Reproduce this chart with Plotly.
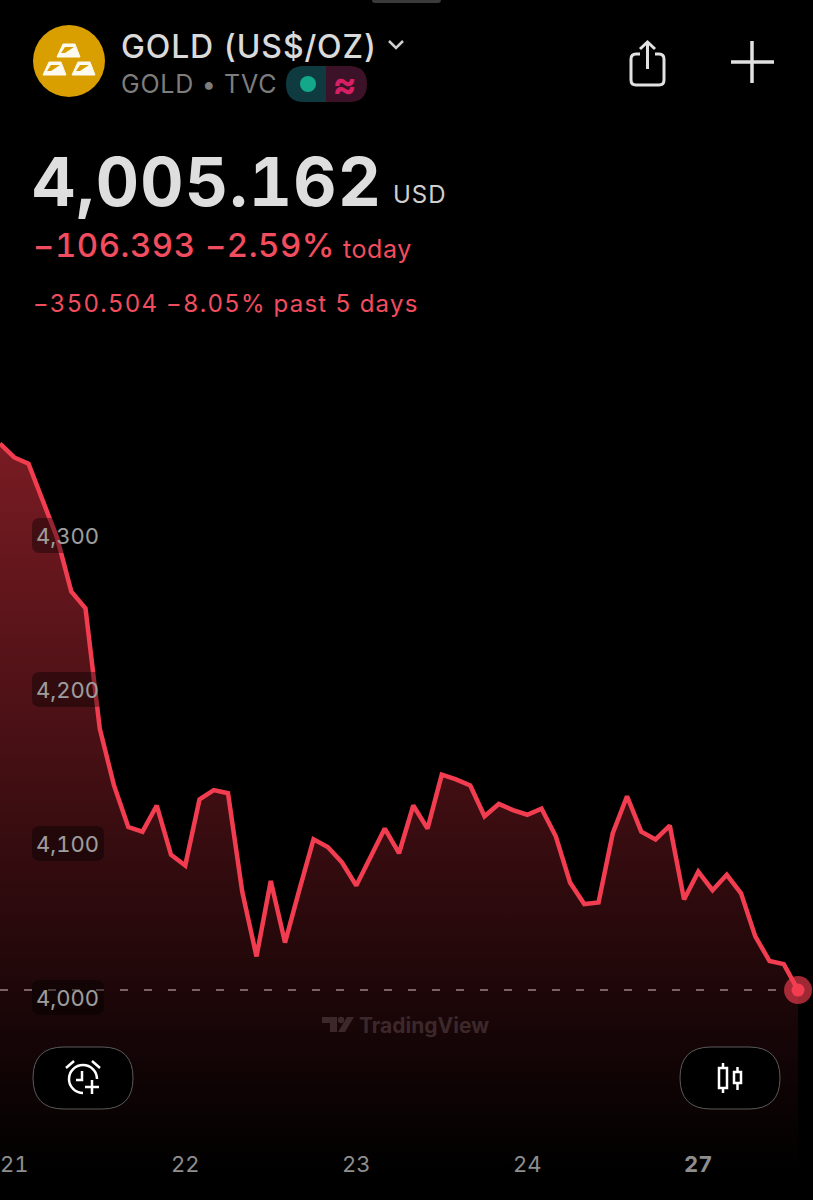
import plotly.graph_objects as go

WIDTH = 813
HEIGHT = 1200
PLOT_BOTTOM = 1172

# DATA
prices = [
    4360, 4351, 4347, 4323, 4299, 4264, 4253, 4175, 4138, 4111, 4108, 4125,
    4093, 4086, 4129, 4135, 4133, 4069, 4027, 4076, 4036, 4070, 4103, 4098,
    4088, 4073, 4092, 4110, 4094, 4125, 4110, 4145, 4142, 4138, 4118, 4126,
    4122, 4119, 4123, 4105, 4075, 4061, 4062, 4107, 4131, 4108, 4103, 4112,
    4064, 4082, 4070, 4080, 4068, 4040, 4024, 4022, 4005.162,
]
bars = list(range(len(prices)))
day_positions = [1, 13, 25, 37, 49]
day_labels = ["21", "22", "23", "24", "<b>27</b>"]
price_ticks = [4000, 4100, 4200, 4300]
price_labels = ["4,000", "4,100", "4,200", "4,300"]
last_price = prices[-1]

RED = "#f23d50"
FONT = "Inter"
TNUM = "font-feature-settings:'tnum'"


def px(x):
    return x / WIDTH


def py(y):
    # paper coords stop at the bottom of the plot area
    return (PLOT_BOTTOM - y) / PLOT_BOTTOM


def path(*parts):
    # parts are commands with pixel coords, e.g. ("M", 10, 20)
    out = []
    for cmd, *nums in parts:
        pairs = [f"{px(nums[i])},{py(nums[i + 1])}" for i in range(0, len(nums), 2)]
        out.append(cmd + " ".join(pairs))
    return " ".join(out)


def rounded(x0, y0, x1, y1, r):
    return path(
        ("M", x0 + r, y0), ("L", x1 - r, y0), ("Q", x1, y0, x1, y0 + r),
        ("L", x1, y1 - r), ("Q", x1, y1, x1 - r, y1), ("L", x0 + r, y1),
        ("Q", x0, y1, x0, y1 - r), ("L", x0, y0 + r), ("Q", x0, y0, x0 + r, y0),
    ) + " Z"


def icon(d, color="#e2e2e2", width=3):
    return dict(type="path", xref="paper", yref="paper", path=d, layer="above",
                line=dict(color=color, width=width), fillcolor="rgba(0,0,0,0)")


def solid(d, color, line_color=None, line_width=0):
    return dict(type="path", xref="paper", yref="paper", path=d, layer="above",
                fillcolor=color, line=dict(color=line_color or color, width=line_width))


def circle(cx, cy, r, color):
    return dict(type="circle", xref="paper", yref="paper", layer="above",
                x0=px(cx - r), x1=px(cx + r), y0=py(cy + r), y1=py(cy - r),
                fillcolor=color, line=dict(width=0))


def label(x, y, text, size, color, spacing=0, weight=400, anchor="left"):
    text = f'<span style="letter-spacing:{spacing}px;font-weight:{weight};{TNUM}">{text}</span>'
    return dict(xref="paper", yref="paper", x=px(x), y=py(y), text=text, showarrow=False,
                xanchor=anchor, yanchor="middle", borderpad=0,
                font=dict(family=FONT, size=size, color=color))


def gold_bar(x, y):
    return [
        solid(path(("M", x, y + 14), ("L", x + 6, y + 1), ("L", x + 18, y + 1), ("L", x + 23, y + 14)) + " Z",
              "#fdfaf0", "#fdfaf0", 1),
        solid(path(("M", x + 4, y + 10), ("L", x + 8, y + 4), ("L", x + 17, y + 4), ("L", x + 8, y + 10)) + " Z",
              "#d99e00"),
    ]


shapes = []

# status bar stub on top
shapes.append(solid(rounded(372, -6, 441, 3, 3), "#3a3a3a"))

# header icons
shapes.append(circle(69, 61, 36, "#d99e00"))
shapes += gold_bar(57, 43) + gold_bar(43, 61) + gold_bar(72, 61)
shapes.append(icon(path(("M", 389, 41), ("L", 396, 48), ("L", 403, 41)), "#d0d0d0", 2.5))

# pill with the market status
shapes.append(solid(path(("M", 326, 66), ("L", 304, 66), ("Q", 286, 66, 286, 84), ("Q", 286, 102, 304, 102), ("L", 326, 102)) + " Z", "#0e3a40"))
shapes.append(solid(path(("M", 326, 66), ("L", 349, 66), ("Q", 367, 66, 367, 84), ("Q", 367, 102, 349, 102), ("L", 326, 102)) + " Z", "#3c1228"))
shapes.append(circle(308, 84, 8, "#14a88a"))

# share and plus
shapes.append(icon(path(("M", 640, 54), ("L", 636, 54), ("Q", 631, 54, 631, 59), ("L", 631, 80), ("Q", 631, 85, 636, 85),
                        ("L", 659, 85), ("Q", 664, 85, 664, 80), ("L", 664, 59), ("Q", 664, 54, 659, 54), ("L", 655, 54))))
shapes.append(icon(path(("M", 647.5, 69), ("L", 647.5, 43))))
shapes.append(icon(path(("M", 640, 49), ("L", 647.5, 42), ("L", 655, 49))))
shapes.append(icon(path(("M", 731, 62), ("L", 774, 62)), "#e2e2e2", 3.5))
shapes.append(icon(path(("M", 752, 41), ("L", 752, 83)), "#e2e2e2", 3.5))

# current price line, under the red line and the dot
shapes.append(dict(type="line", xref="x", yref="y", x0=bars[0], x1=bars[-1], y0=last_price, y1=last_price,
                   layer="between", line=dict(color="#8c8c8c", width=1.5, dash="8px,16px")))

# dark chips under the price labels
for top in [518, 672, 826, 980]:
    shapes.append(solid(rounded(32, top, 104, top + 35, 8), "rgba(0,0,0,0.38)"))

# TradingView logo
WM = "#3c282b"
shapes.append(solid(path(("M", 322, 1017), ("L", 337, 1017), ("L", 337, 1032), ("L", 330, 1032), ("L", 330, 1023), ("L", 322, 1023)) + " Z", WM))
shapes.append(circle(341, 1020, 3.2, WM))
shapes.append(solid(path(("M", 347, 1017), ("L", 354, 1017), ("L", 345, 1032), ("L", 338, 1032)) + " Z", WM))

# alert button
shapes.append(solid(rounded(33, 1047, 133, 1109, 31), "#000000", "#5a5a5a", 1))
WH = "#ffffff"
shapes.append(icon(path(("M", 97, 1079), ("C", 97, 1071.3, 90.7, 1065, 83, 1065), ("C", 75.3, 1065, 69, 1071.3, 69, 1079), ("C", 69, 1086.7, 75.3, 1093, 83, 1093)), WH, 2.5))
shapes.append(icon(path(("M", 82, 1071), ("L", 82, 1080), ("L", 76, 1080)), WH, 2.5))
shapes.append(icon(path(("M", 66, 1068), ("L", 74, 1061)), WH, 2.5))
shapes.append(icon(path(("M", 92, 1061), ("L", 100, 1068)), WH, 2.5))
shapes.append(icon(path(("M", 85, 1087), ("L", 99, 1087)), WH, 2.5))
shapes.append(icon(path(("M", 92, 1080), ("L", 92, 1094)), WH, 2.5))

# chart type button
shapes.append(solid(rounded(680, 1047, 780, 1109, 31), "#000000", "#5a5a5a", 1))
shapes.append(icon(path(("M", 719, 1068), ("L", 727, 1068), ("L", 727, 1088), ("L", 719, 1088)) + " Z", WH, 2.5))
shapes.append(icon(path(("M", 723, 1063), ("L", 723, 1068)), WH, 2.5))
shapes.append(icon(path(("M", 723, 1088), ("L", 723, 1093)), WH, 2.5))
shapes.append(icon(path(("M", 734, 1072), ("L", 741, 1072), ("L", 741, 1083), ("L", 734, 1083)) + " Z", WH, 2.5))
shapes.append(icon(path(("M", 737.5, 1067), ("L", 737.5, 1072)), WH, 2.5))
shapes.append(icon(path(("M", 737.5, 1083), ("L", 737.5, 1090)), WH, 2.5))

annotations = [
    label(120, 46, "GOLD (US$/OZ)", 32, "#dadada", spacing=0.85, weight=500),
    label(120, 84, "GOLD • TVC", 25, "#7d7d7d", spacing=0.8),
    label(344, 84, "≈", 36, "#d81f63", weight=700, anchor="center"),
    label(31, 182, "4,005.162", 67, "#dedede", spacing=1.25, weight=700),
    label(392, 195, "USD", 24, "#cfcfcf", spacing=1),
    label(32, 245, "−106.393 −2.59%", 33, "#f24d5e", spacing=0.5, weight=500),
    label(342, 249, "today", 25, "#f24d5e", spacing=0.6),
    label(32, 304, "−350.504 −8.05% past 5 days", 24, "#f24d5e", spacing=1.25),
    label(358, 1025, "TradingView", 21, WM, weight=700),
]

fig = go.Figure()

fig.add_trace(go.Scatter(
    x=bars,
    y=prices,
    mode="lines",
    line=dict(color=RED, width=4.5),
    fill="tozeroy",
    fillgradient=dict(
        type="vertical",
        start=3887,
        stop=4360,
        colorscale=[[0, "rgba(242,54,69,0)"], [1, "rgba(242,54,69,0.5)"]],
    ),
    hoverinfo="skip",
))

# last price dot
fig.add_trace(go.Scatter(
    x=bars[-1:], y=prices[-1:], mode="markers",
    marker=dict(size=28, color="rgba(242,61,80,0.65)", line=dict(width=0)),
    hoverinfo="skip",
))
fig.add_trace(go.Scatter(
    x=bars[-1:], y=prices[-1:], mode="markers",
    marker=dict(size=13, color=RED, line=dict(width=0)),
    hoverinfo="skip",
))

fig.update_layout(
    width=WIDTH,
    height=HEIGHT,
    margin=dict(l=0, r=0, t=0, b=HEIGHT - PLOT_BOTTOM),
    paper_bgcolor="#000000",
    plot_bgcolor="#000000",
    showlegend=False,
    shapes=shapes,
    annotations=annotations,
)
fig.update_xaxes(
    range=[0, 57.05],
    tickmode="array",
    tickvals=day_positions,
    ticktext=[f'<span style="{TNUM}">{t}</span>' for t in day_labels],
    ticklabelstandoff=-23,
    ticklabeloverflow="allow",
    ticks="",
    showgrid=False,
    zeroline=False,
    showline=False,
    tickfont=dict(family=FONT, size=22, color="#8e8e8e"),
)
# outside labels pulled back over the plot, inside ones would hide the "21" tick
fig.update_yaxes(
    range=[4000 - (PLOT_BOTTOM - 998) / 1.54, 4648.05],
    tickmode="array",
    tickvals=price_ticks,
    ticktext=[f'<span style="{TNUM}">{t}</span>' for t in price_labels],
    ticklabelstandoff=-100,
    ticklabeloverflow="allow",
    ticks="",
    showgrid=False,
    zeroline=False,
    showline=False,
    tickfont=dict(family=FONT, size=22, color="#ffffff"),
)

fig.write_html("out.html", config={"displayModeBar": False},
               post_script="document.body.style.margin='0';document.body.style.background='#000';")
